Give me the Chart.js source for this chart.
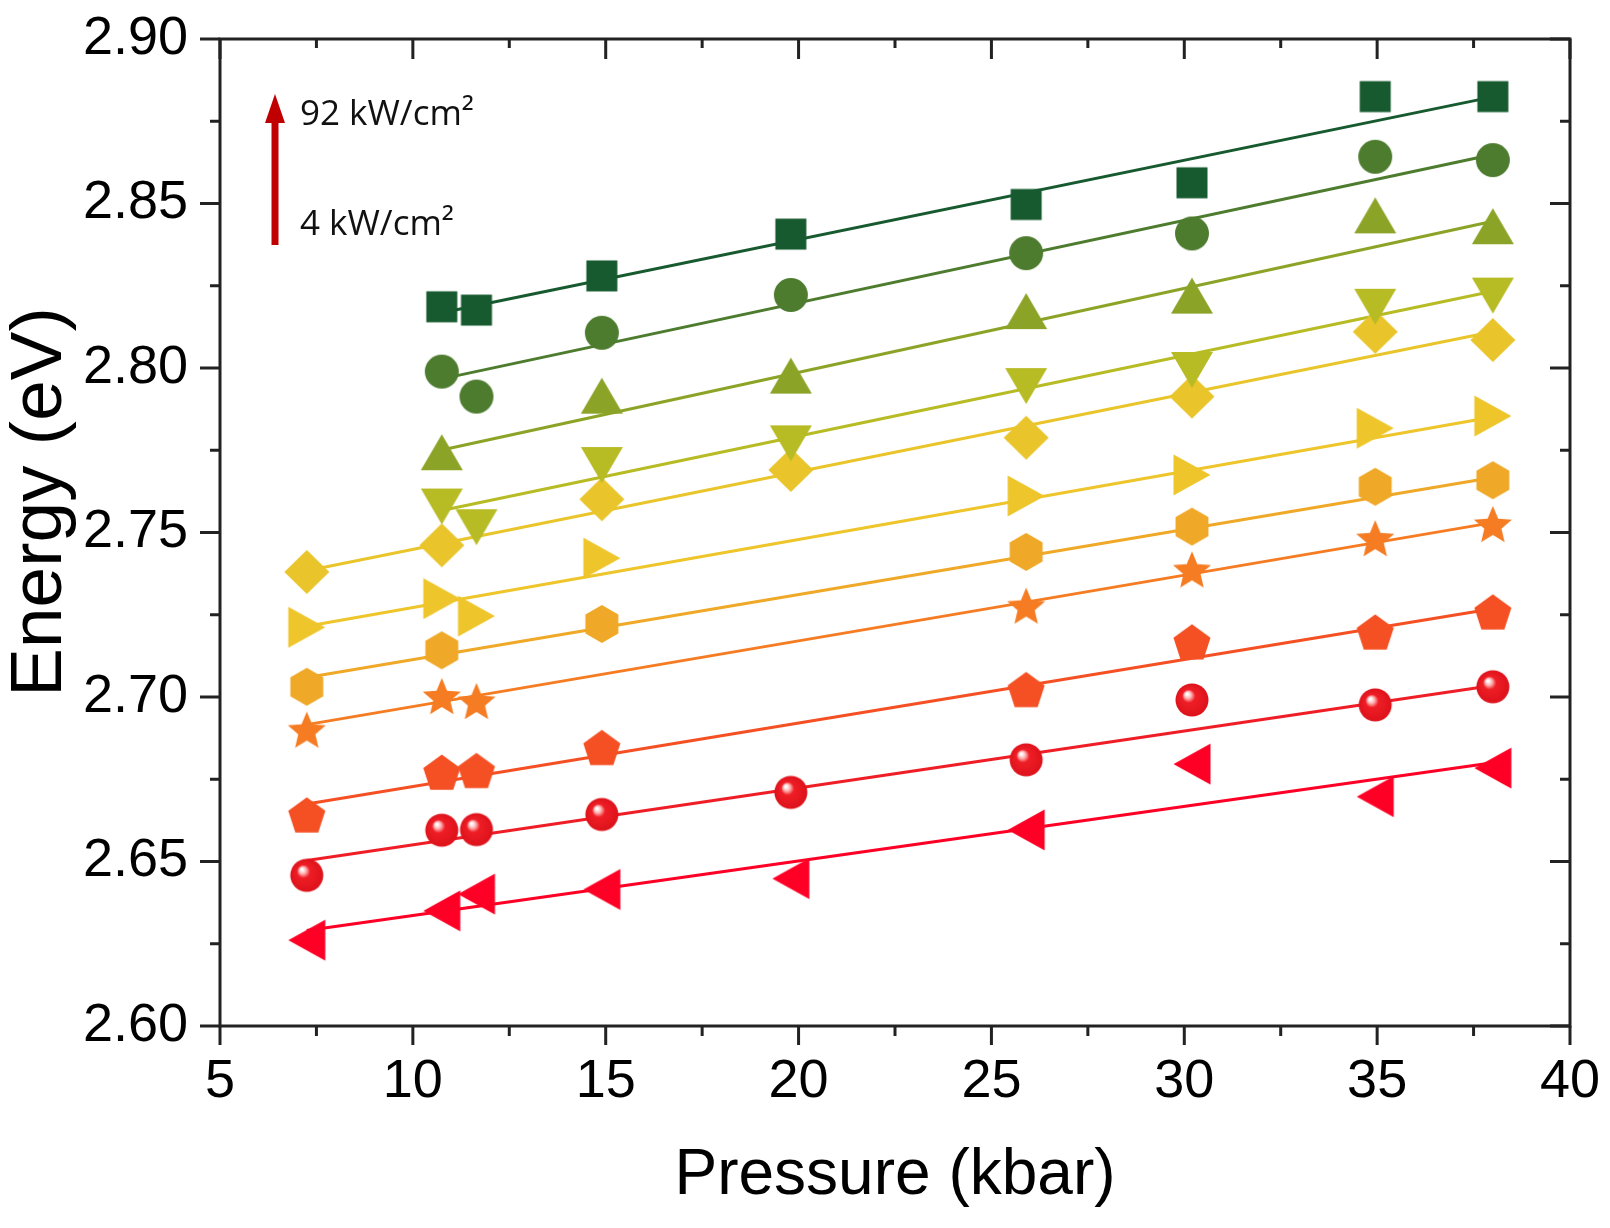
<!DOCTYPE html>
<html lang="en">
<head>
<meta charset="UTF-8">
<title>Energy vs Pressure</title>
<style>
    html, body { margin: 0; padding: 0; background: #ffffff; }
    .chart-box { width: 1610px; height: 1228px; }
</style>
<script src="https://cdn.jsdelivr.net/npm/chart.js"></script>
</head>
<body>
<div class="chart-box"><canvas id="energyChart" width="1610" height="1228"></canvas></div>

<script>
// pressure points (kbar)
const pressures = [7.25, 10.75, 11.65, 14.9, 19.8, 25.9, 30.2, 34.95, 38.0];

// peak energy (eV), highest excitation (92 kW/cm2) first, lowest (4 kW/cm2) last
// null = no point at that pressure
const s1  = [null,   2.8186, 2.8176, 2.8280, 2.8407, 2.8497, 2.8563, 2.8825, 2.8825];
const s2  = [null,   2.7989, 2.7913, 2.8107, 2.8222, 2.8349, 2.8409, 2.8642, 2.8632];
const s3  = [null,   2.7744, null,   2.7916, 2.7977, 2.8173, 2.8220, 2.8464, 2.8431];
const s4  = [null,   2.7579, 2.7516, 2.7705, 2.7771, 2.7945, 2.7994, 2.8186, 2.8220];
const s5  = [2.7380, 2.7461, null,   2.7601, 2.7690, 2.7788, 2.7913, 2.8110, 2.8085];
const s6  = [2.7212, 2.7299, 2.7246, 2.7422, null,   2.7611, 2.7675, 2.7817, 2.7854];
const s7  = [2.7031, 2.7142, null,   2.7222, null,   2.7441, 2.7518, 2.7639, 2.7659];
const s8  = [2.6898, 2.7000, 2.6985, null,   null,   2.7275, 2.7385, 2.7480, 2.7523];
const s9  = [2.6642, 2.6772, 2.6777, 2.6847, null,   2.7023, 2.7168, 2.7198, 2.7259];
const s10 = [2.6458, 2.6595, 2.6597, 2.6643, 2.6710, 2.6809, 2.6991, 2.6976, 2.7031];
const s11 = [2.6261, 2.6350, 2.6401, 2.6415, 2.6448, 2.6596, 2.6796, 2.6697, 2.6784];

// linear fit lines, value at first pressure and at last pressure
const fitStart = [2.8168, 2.7967, 2.7751, 2.7567, 2.7384, 2.7215, 2.7059, 2.6916, 2.6675, 2.6503, 2.6290];
const fitEnd   = [2.8824, 2.8649, 2.8446, 2.8233, 2.8110, 2.7851, 2.7667, 2.7530, 2.7268, 2.7035, 2.6800];

const xTicks = [5, 10, 15, 20, 25, 30, 35, 40];
const yTicks = [2.60, 2.65, 2.70, 2.75, 2.80, 2.85, 2.90];

const series  = [s1, s2, s3, s4, s5, s6, s7, s8, s9, s10, s11];
const colors  = ['#175a2f', '#4e7c2f', '#8ba427', '#b7bb24', '#e9c52b', '#eec52a',
                 '#efa827', '#f57c22', '#f55023', '#ef1e26', '#fe0025'];
const shapes  = ['square', 'circle', 'triUp', 'triDown', 'diamond', 'triRight',
                 'hexagon', 'star', 'pentagon', 'sphere', 'triLeft'];

// marker sprites
function makeMarker(shape, color) {
    const c = document.createElement('canvas');
    c.width = c.height = 52;
    const g = c.getContext('2d');
    const m = 26;
    g.fillStyle = color;
    g.beginPath();
    if (shape === 'square') {
        g.rect(m - 15.5, m - 15.5, 31, 31);
    } else if (shape === 'circle') {
        g.arc(m, m, 17, 0, Math.PI * 2);
    } else if (shape === 'triUp') {
        g.moveTo(m, m - 18); g.lineTo(m + 21, m + 18); g.lineTo(m - 21, m + 18);
    } else if (shape === 'triDown') {
        g.moveTo(m, m + 18); g.lineTo(m + 21, m - 18); g.lineTo(m - 21, m - 18);
    } else if (shape === 'triRight') {
        g.moveTo(m + 18.5, m); g.lineTo(m - 18.5, m - 20.5); g.lineTo(m - 18.5, m + 20.5);
    } else if (shape === 'triLeft') {
        g.moveTo(m - 18.5, m); g.lineTo(m + 18.5, m - 20.5); g.lineTo(m + 18.5, m + 20.5);
    } else if (shape === 'diamond') {
        g.moveTo(m, m - 22); g.lineTo(m + 22.5, m); g.lineTo(m, m + 22); g.lineTo(m - 22.5, m);
    } else if (shape === 'hexagon') {
        for (let k = 0; k < 6; k++) {
            const a = -Math.PI / 2 + k * Math.PI / 3;
            g.lineTo(m + 19 * Math.cos(a), m + 19 * Math.sin(a));
        }
    } else if (shape === 'star') {
        for (let k = 0; k < 10; k++) {
            const a = -Math.PI / 2 + k * Math.PI / 5;
            const r = k % 2 ? 9 : 20;
            g.lineTo(m + r * Math.cos(a), m + 1 + r * Math.sin(a));
        }
    } else if (shape === 'pentagon') {
        for (let k = 0; k < 5; k++) {
            const a = -Math.PI / 2 + k * 2 * Math.PI / 5;
            g.lineTo(m + 19.5 * Math.cos(a), m + 2 + 19.5 * Math.sin(a));
        }
    } else if (shape === 'sphere') {
        const grad = g.createRadialGradient(m - 5, m - 6, 1, m, m, 16.5);
        grad.addColorStop(0, '#ffffff');
        grad.addColorStop(0.16, '#ffb4b4');
        grad.addColorStop(0.36, color);
        grad.addColorStop(1, '#dd121b');
        g.fillStyle = grad;
        g.arc(m, m, 16.5, 0, Math.PI * 2);
    }
    g.closePath();
    g.fill();
    return c;
}

const datasets = [];
series.forEach((arr, i) => {
    const pts = pressures.map((p, j) => ({ x: p, y: arr[j] })).filter(d => d.y !== null);
    datasets.push({
        label: 'series ' + (i + 1),
        data: pts,
        pointStyle: makeMarker(shapes[i], colors[i]),
        pointRadius: 10,
        showLine: false,
        order: 0
    });
    datasets.push({
        label: 'fit ' + (i + 1),
        data: [{ x: pts[0].x, y: fitStart[i] }, { x: pressures[pressures.length - 1], y: fitEnd[i] }],
        showLine: true,
        borderColor: colors[i],
        borderWidth: 3,
        pointRadius: 0,
        order: 1
    });
});

// frame, tick marks, axis titles and the excitation arrow
const framePlugin = {
    id: 'frame',
    afterDraw(chart) {
        const ctx = chart.ctx;
        const a = chart.chartArea;
        const xs = chart.scales.x, ys = chart.scales.y;
        ctx.save();
        ctx.strokeStyle = '#222';
        ctx.lineWidth = 3;
        ctx.strokeRect(a.left, a.top, a.right - a.left, a.bottom - a.top);

        ctx.beginPath();
        for (let v = 5; v <= 40.01; v += 2.5) {
            const px = xs.getPixelForValue(v);
            const major = Math.abs(v % 5) < 0.01;
            ctx.moveTo(px, a.bottom); ctx.lineTo(px, a.bottom + (major ? 19 : 10));
            ctx.moveTo(px, a.top); ctx.lineTo(px, a.top + (major ? 20 : 9));
        }
        for (let k = 0; k <= 12; k++) {
            const v = 2.6 + k * 0.025;
            const py = ys.getPixelForValue(v);
            const major = k % 2 === 0;
            ctx.moveTo(a.left, py); ctx.lineTo(a.left - (major ? 20 : 10), py);
            ctx.moveTo(a.right, py); ctx.lineTo(a.right - (major ? 20 : 10), py);
        }
        ctx.stroke();

        // axis titles
        ctx.fillStyle = '#000';
        ctx.textAlign = 'center';
        ctx.textBaseline = 'middle';
        ctx.font = '64px "Liberation Sans", Arial, sans-serif';
        ctx.fillText('Pressure (kbar)', (a.left + a.right) / 2, 1176);
        ctx.save();
        ctx.translate(41, 502);
        ctx.rotate(-Math.PI / 2);
        ctx.font = '73px "Liberation Sans", Arial, sans-serif';
        ctx.fillText('Energy (eV)', 0, 0);
        ctx.restore();

        // arrow
        ctx.fillStyle = '#c00000';
        ctx.fillRect(271.5, 121, 7, 124);
        ctx.beginPath();
        ctx.moveTo(275, 94); ctx.lineTo(285, 123); ctx.lineTo(265, 123);
        ctx.closePath();
        ctx.fill();

        ctx.fillStyle = '#111';
        ctx.font = '35px "Open Sans", sans-serif';
        ctx.textAlign = 'left';
        ctx.fillText('92 kW/cm²', 300, 115);
        ctx.fillText('4 kW/cm²', 300, 225);
        ctx.restore();
    }
};

const tickFont = { family: '"Liberation Sans", Arial, sans-serif', size: 54 };

new Chart(document.getElementById('energyChart'), {
    type: 'scatter',
    data: { datasets: datasets },
    options: {
        responsive: false,
        animation: false,
        devicePixelRatio: 1,
        layout: { padding: { top: 39, right: 40, bottom: 0, left: 0 } },
        plugins: { legend: { display: false }, tooltip: { enabled: false } },
        scales: {
            x: {
                type: 'linear',
                min: 5, max: 40,
                afterBuildTicks: s => { s.ticks = xTicks.map(v => ({ value: v })); },
                ticks: { color: '#000', font: tickFont, padding: 24, maxRotation: 0 },
                grid: { display: false, drawTicks: false },
                border: { display: false },
                afterFit: s => { s.height = 202; s.paddingLeft = 0; s.paddingRight = 0; }
            },
            y: {
                type: 'linear',
                min: 2.6, max: 2.9,
                afterBuildTicks: s => { s.ticks = yTicks.map(v => ({ value: v })); },
                ticks: { color: '#000', font: tickFont, padding: 32, callback: v => v.toFixed(2) },
                grid: { display: false, drawTicks: false },
                border: { display: false },
                afterFit: s => { s.width = 220; s.paddingTop = 0; s.paddingBottom = 0; }
            }
        }
    },
    plugins: [framePlugin]
});
</script>
</body>
</html>
